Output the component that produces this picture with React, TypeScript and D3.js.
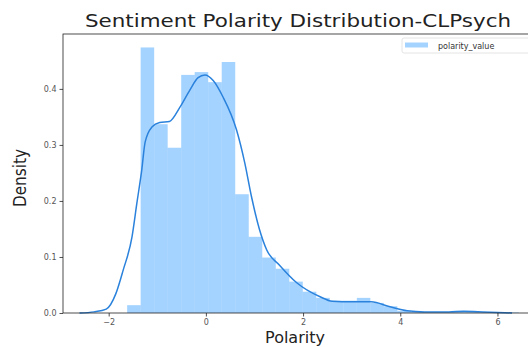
import React, { useEffect, useRef } from "react"
import * as d3 from "d3"

// histogram bins (density), starting at binStart with fixed width
const binStart = -1.62
const binWidth = 0.278
const binDensity = [
  0.014, 0.474, 0.337, 0.295, 0.425, 0.43, 0.412, 0.448, 0.212, 0.136, 0.099, 0.079, 0.056, 0.038,
  0.027, 0.022, 0.022, 0.027, 0.018, 0.012, 0.004, 0.002, 0.001, 0.001, 0.002, 0.003, 0.001, 0.001,
  0.001,
]

// kde curve
const kdeX = [
  -2.6, -2.3, -2.05, -1.85, -1.7, -1.52, -1.42, -1.32, -1.25, -1.11, -0.95, -0.75, -0.53, -0.33, -0.16,
  -0.02, 0.15, 0.35, 0.63, 0.8, 0.94, 1.1, 1.25, 1.52, 1.87, 2.35, 2.6, 3.0, 3.4, 3.79, 4.14, 4.5, 5.0,
  5.3, 5.7, 6.0, 6.3,
]
const kdeY = [
  0.0, 0.002, 0.007, 0.035, 0.077, 0.136, 0.196, 0.255, 0.305, 0.332, 0.34, 0.342, 0.368, 0.398, 0.42,
  0.425, 0.415, 0.386, 0.327, 0.268, 0.207, 0.15, 0.113, 0.085, 0.054, 0.029, 0.021, 0.02, 0.02, 0.011,
  0.004, 0.002, 0.002, 0.003, 0.002, 0.001, 0.0,
]

const xTicks = [-2, 0, 2, 4, 6]
const yTicks = [0, 0.1, 0.2, 0.3, 0.4]

const W = 528
const H = 347

const App = () => {
  const ref = useRef<SVGSVGElement>(null)

  useEffect(() => {
    const svg = d3.select(ref.current)
    svg.selectAll("*").remove()

    const left = 63,
      right = 531,
      top = 34,
      bottom = 313
    const color = "#1e90ff"

    const x = d3.scaleLinear().domain([-2.94, 6.69]).range([left, right])
    const y = d3.scaleLinear().domain([0, 0.498]).range([bottom, top])

    // bars
    svg
      .append("g")
      .selectAll("rect")
      .data(binDensity)
      .join("rect")
      .attr("x", (d, i) => x(binStart + i * binWidth))
      .attr("width", x(binWidth) - x(0))
      .attr("y", (d) => y(d))
      .attr("height", (d) => y(0) - y(d))
      .attr("fill", color)
      .attr("fill-opacity", 0.4)

    // kde
    const line = d3
      .line<number>()
      .x((d, i) => x(kdeX[i]))
      .y((d) => y(d))
      .curve(d3.curveMonotoneX)
    svg
      .append("path")
      .attr("d", line(kdeY))
      .attr("fill", "none")
      .attr("stroke", "#2a82dc")
      .attr("stroke-width", 1.5)

    // frame
    svg
      .append("rect")
      .attr("x", left)
      .attr("y", top)
      .attr("width", right - left)
      .attr("height", bottom - top)
      .attr("fill", "none")
      .attr("stroke", "#222")
      .attr("stroke-width", 0.8)

    const font = "DejaVu Sans, sans-serif"

    const xAxis = svg
      .append("g")
      .attr("transform", `translate(0,${bottom})`)
      .call(d3.axisBottom(x).tickValues(xTicks).tickSize(3.5).tickPadding(3).tickFormat(d3.format("d")))
    xAxis.select(".domain").remove()
    const yAxis = svg
      .append("g")
      .attr("transform", `translate(${left},0)`)
      .call(d3.axisLeft(y).tickValues(yTicks).tickSize(3.5).tickPadding(3).tickFormat(d3.format(".1f")))
    yAxis.select(".domain").remove()
    svg
      .selectAll(".tick text")
      .attr("font-family", font)
      .attr("font-size", 8)
      .attr("fill", "#555")
    svg.selectAll(".tick line").attr("stroke", "#222").attr("stroke-width", 0.8)

    // title
    svg
      .append("text")
      .attr("x", 298)
      .attr("y", 27)
      .attr("text-anchor", "middle")
      .attr("font-family", font)
      .attr("font-size", 17)
      .attr("textLength", 426)
      .attr("lengthAdjust", "spacingAndGlyphs")
      .attr("fill", "#222")
      .text("Sentiment Polarity Distribution-CLPsych")

    svg
      .append("text")
      .attr("x", 295)
      .attr("y", 343)
      .attr("text-anchor", "middle")
      .attr("font-family", font)
      .attr("font-size", 16)
      .attr("fill", "#222")
      .text("Polarity")

    svg
      .append("text")
      .attr("transform", `translate(26,178) rotate(-90)`)
      .attr("text-anchor", "middle")
      .attr("font-family", "Liberation Sans Narrow, DejaVu Sans Condensed, sans-serif")
      .attr("font-size", 17)
      .attr("fill", "#222")
      .text("Density")

    // legend
    const lg = svg.append("g")
    lg.append("rect")
      .attr("x", 402)
      .attr("y", 38)
      .attr("width", 130)
      .attr("height", 15)
      .attr("rx", 2)
      .attr("fill", "white")
      .attr("stroke", "#ddd")
      .attr("stroke-width", 0.8)
    lg.append("rect")
      .attr("x", 405)
      .attr("y", 42.5)
      .attr("width", 23)
      .attr("height", 5)
      .attr("fill", color)
      .attr("fill-opacity", 0.4)
    lg.append("text")
      .attr("x", 438)
      .attr("y", 48.5)
      .attr("font-family", font)
      .attr("font-size", 8)
      .attr("fill", "#333")
      .text("polarity_value")
  }, [])

  return (
    <svg
      ref={ref}
      width={W}
      height={H}
      style={{ position: "absolute", left: 0, top: 0, background: "white" }}
    />
  )
}

export default App
